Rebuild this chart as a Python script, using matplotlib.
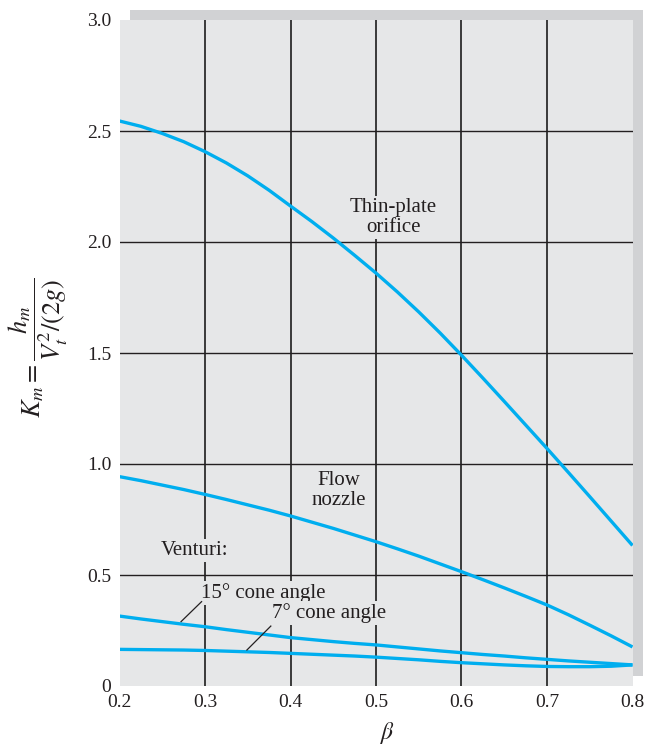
import matplotlib
matplotlib.use("Agg")
import matplotlib.pyplot as plt

plt.rcParams['font.family'] = ['Liberation Serif', 'DejaVu Serif']
plt.rcParams['mathtext.fontset'] = 'stix'

beta = [0.200, 0.225, 0.250, 0.275, 0.300, 0.325, 0.350, 0.375, 0.400,
        0.425, 0.450, 0.475, 0.500, 0.525, 0.550, 0.575, 0.600, 0.625,
        0.650, 0.675, 0.700, 0.725, 0.750, 0.775, 0.800]
thin_plate = [2.545, 2.521, 2.489, 2.452, 2.407, 2.356, 2.298, 2.233, 2.162,
              2.092, 2.018, 1.94, 1.86, 1.775, 1.685, 1.59, 1.49, 1.387,
              1.282, 1.176, 1.07, 0.962, 0.853, 0.743, 0.633]
flow_nozzle = [0.943, 0.925, 0.905, 0.885, 0.863, 0.84, 0.816, 0.792, 0.766,
               0.738, 0.71, 0.68, 0.65, 0.618, 0.585, 0.55, 0.515, 0.479,
               0.442, 0.404, 0.365, 0.321, 0.274, 0.226, 0.176]
venturi_15 = [0.315, 0.302, 0.29, 0.278, 0.267, 0.254, 0.242, 0.23, 0.218,
              0.209, 0.20, 0.192, 0.185, 0.176, 0.167, 0.158, 0.15, 0.142,
              0.135, 0.127, 0.12, 0.113, 0.107, 0.101, 0.095]
venturi_7 = [0.165, 0.164, 0.163, 0.162, 0.16, 0.157, 0.154, 0.151, 0.147,
             0.143, 0.139, 0.135, 0.13, 0.124, 0.118, 0.111, 0.105, 0.10,
             0.095, 0.091, 0.088, 0.087, 0.087, 0.089, 0.095]

xticks = [0.2, 0.3, 0.4, 0.5, 0.6, 0.7, 0.8]
yticks = [0, 0.5, 1.0, 1.5, 2.0, 2.5, 3.0]
ytick_labels = ['0', '0.5', '1.0', '1.5', '2.0', '2.5', '3.0']

W, H = 646, 746
fig = plt.figure(figsize=(W / 100, H / 100), dpi=100)

bg = '#e6e7e8'
shadow = '#d1d2d4'
blue = '#00aeef'
tc = '#231f20'

# shadow panel
sax = fig.add_axes([129.5 / W, 70 / H, 513 / W, 666 / H])
sax.set_facecolor(shadow)
sax.set_xticks([])
sax.set_yticks([])
for s in sax.spines.values():
    s.set_visible(False)
sax.set_zorder(0)

ax = fig.add_axes([119.5 / W, 60 / H, 513 / W, 666 / H])
ax.set_zorder(1)
ax.set_facecolor(bg)
for s in ax.spines.values():
    s.set_visible(False)
ax.set_xlim(0.2, 0.8)
ax.set_ylim(0, 3.0)
ax.set_xticks(xticks)
ax.set_xticklabels([f'{v:.1f}' for v in xticks])
ax.set_yticks(yticks)
ax.set_yticklabels(ytick_labels)
ax.tick_params(length=0, labelsize=14, colors=tc, pad=6)

for xv in xticks[1:-1]:
    ax.axvline(xv, color='#3a3a3a', lw=1.4, zorder=1)
for yv in yticks[1:-1]:
    ax.axhline(yv, color=tc, lw=1.0, zorder=1)

for ys in (thin_plate, flow_nozzle, venturi_15, venturi_7):
    ax.plot(beta, ys, color=blue, lw=2.4, zorder=3, solid_capstyle='butt')

fs = 15
box = dict(facecolor=bg, edgecolor='none', pad=1.5)
ax.text(0.52, 2.11, 'Thin-plate\norifice', ha='center', va='center',
        fontsize=fs, color=tc, bbox=box, zorder=2, linespacing=1.05)
ax.text(0.456, 0.88, 'Flow\nnozzle', ha='center', va='center',
        fontsize=fs, color=tc, bbox=box, zorder=2, linespacing=1.05)
ax.text(0.2485, 0.61, 'Venturi:', ha='left', va='center',
        fontsize=fs, color=tc, bbox=box, zorder=2)
ax.text(0.295, 0.42, '15° cone angle', ha='left', va='center',
        fontsize=fs, color=tc, bbox=box, zorder=2)
ax.text(0.378, 0.33, '7° cone angle', ha='left', va='center',
        fontsize=fs, color=tc, bbox=box, zorder=2)
ax.plot([0.296, 0.272], [0.38, 0.29], color=tc, lw=0.9, zorder=4)
ax.plot([0.377, 0.349], [0.27, 0.162], color=tc, lw=0.9, zorder=4)

fig.text(388 / W, 1 - 733 / H, r'$\beta$', ha='center', va='center',
         fontsize=17, color=tc)
fig.text(38 / W, 1 - 348 / H, r'$K_m = \dfrac{h_m}{V_t^2/(2g)}$', rotation=90,
         ha='center', va='center', fontsize=19, color=tc)

fig.savefig('out.png', dpi=100, facecolor='white')
